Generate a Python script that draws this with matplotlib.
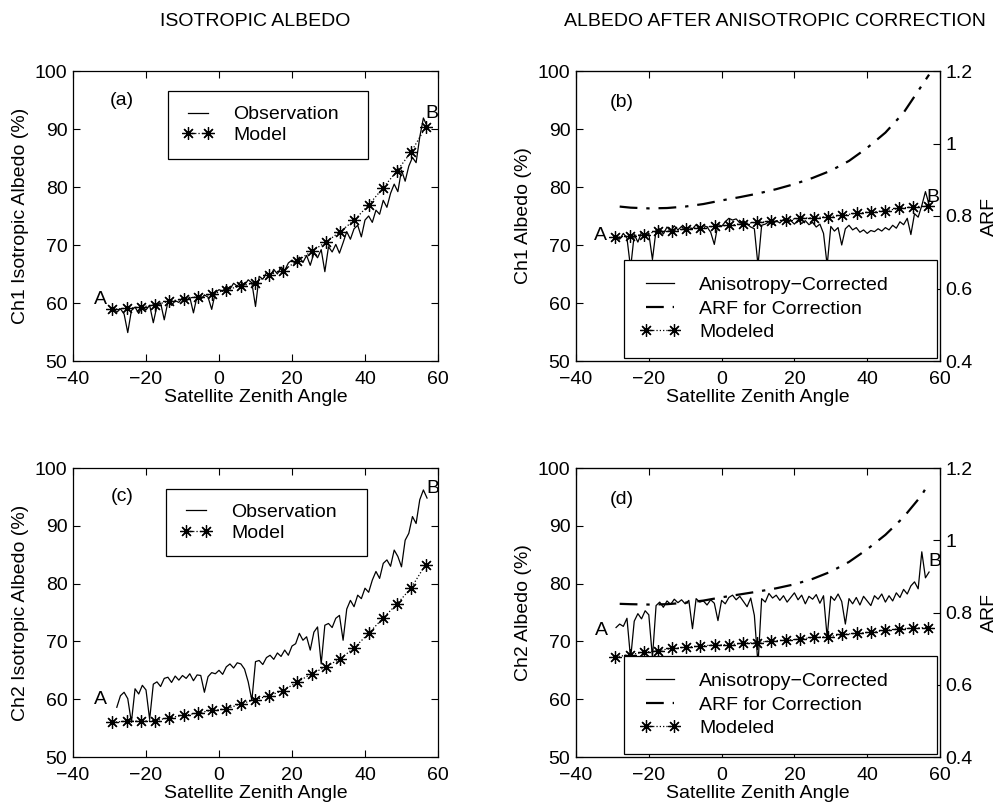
import numpy as np
import matplotlib
matplotlib.use('Agg')
import matplotlib.pyplot as plt

plt.rcParams['font.family'] = ['Liberation Sans', 'DejaVu Sans']
plt.rcParams['font.size'] = 14
plt.rcParams['axes.unicode_minus'] = True

# satellite zenith angle grids (deg)
angle_a = np.arange(-29, 58)
angle_b = np.arange(-29, 58)
angle_c = np.arange(-28, 58)
angle_d = np.arange(-29, 58)
model_angle = [-29.2, -25.3, -21.4, -17.5, -13.6, -9.7, -5.8, -1.9, 2.0, 5.9, 9.8, 13.7,
               17.6, 21.5, 25.4, 29.3, 33.2, 37.1, 41.0, 44.9, 48.8, 52.7, 56.6]
arf_angle = [-28, -25, -20, -15, -10, -5, 0, 5, 10, 15, 20, 25, 30, 35, 40, 45, 50, 55, 57]

# (a) Ch1 isotropic albedo
obs_a = [59.2, 58.4, 59.0, 58.1, 54.9, 58.7, 59.3, 58.2, 59.4, 58.8, 59.6, 56.6, 59.5, 60.0,
         57.1, 60.2, 59.6, 60.4, 60.1, 60.9, 60.3, 61.0, 58.3, 61.2, 60.6, 61.4, 61.0, 58.9,
         61.8, 62.3, 62.0, 62.9, 62.4, 63.4, 62.9, 63.7, 63.1, 64.0, 63.5, 59.4, 64.6, 64.1,
         65.2, 64.6, 65.8, 65.0, 66.2, 65.6, 66.9, 67.4, 66.8, 67.9, 67.0, 68.2, 66.5, 68.6,
         67.8, 69.2, 65.4, 69.7, 68.8, 70.1, 68.6, 70.4, 72.3, 71.0, 72.8, 73.4, 71.4, 74.3,
         75.0, 73.9, 76.0, 75.3, 77.7, 76.5, 78.9, 80.5, 79.2, 82.9, 81.0, 83.6, 85.1, 84.2,
         88.6, 91.9, 90.5]
model_a = [58.9, 59.1, 59.3, 59.7, 60.3, 60.7, 61.1, 61.5, 62.3, 62.9, 63.5, 64.9, 65.6,
           67.3, 68.9, 70.5, 72.3, 74.3, 76.9, 79.8, 82.8, 86.1, 90.3]

# (b) Ch1 albedo after anisotropic correction
obs_b = [71.5, 71.0, 72.0, 71.2, 66.0, 71.8, 70.5, 72.2, 71.4, 72.0, 67.5, 72.6, 72.8, 71.9,
         73.1, 72.4, 73.3, 72.6, 73.2, 72.4, 73.0, 72.8, 73.5, 72.7, 73.4, 73.1, 72.2, 70.1,
         73.6, 73.2, 74.0, 74.6, 74.3, 74.5, 73.8, 74.2, 73.6, 73.1, 72.8, 66.5, 73.4, 73.6,
         74.0, 73.5, 74.2, 73.8, 74.4, 73.9, 74.2, 73.6, 74.3, 73.7, 74.2, 73.5, 73.9, 73.1,
         73.6, 72.0, 66.5, 73.2, 72.4, 73.0, 70.0, 72.8, 73.4, 72.6, 73.0, 72.2, 72.6, 72.0,
         72.5, 72.3, 72.8, 72.4, 73.0, 72.6, 73.4, 72.9, 74.0, 73.5, 74.6, 71.8, 75.4, 74.8,
         76.8, 79.2, 77.0]
arf_b = [0.826, 0.823, 0.821, 0.822, 0.826, 0.833, 0.843, 0.852, 0.862, 0.874, 0.888, 0.905,
         0.925, 0.952, 0.988, 1.03, 1.085, 1.16, 1.19]
model_b = [71.3, 71.6, 71.8, 72.4, 72.4, 72.8, 73.0, 73.2, 73.4, 73.7, 73.9, 74.1, 74.3,
           74.6, 74.7, 74.9, 75.1, 75.5, 75.7, 75.9, 76.3, 76.6, 76.7]

# (c) Ch2 isotropic albedo
obs_c = [58.6, 60.6, 61.2, 60.1, 56.0, 61.8, 60.9, 62.4, 61.6, 56.5, 62.6, 63.0, 62.2, 63.6,
         63.8, 62.9, 64.0, 63.3, 64.1, 63.6, 64.4, 63.2, 64.2, 64.1, 61.2, 63.9, 64.6, 64.4,
         65.0, 64.3, 65.6, 66.1, 65.4, 66.3, 66.1, 65.2, 63.0, 59.8, 66.5, 66.7, 66.0, 67.2,
         67.6, 66.9, 68.0, 67.4, 68.5, 67.6, 69.2, 69.6, 71.4, 70.2, 70.8, 68.5, 71.6, 72.5,
         66.1, 72.8, 73.1, 72.4, 74.0, 74.5, 70.2, 75.6, 77.1, 76.0, 78.0, 77.4, 79.2, 78.5,
         80.6, 82.1, 80.9, 83.5, 84.1, 83.0, 85.8, 84.7, 82.9, 87.5, 88.7, 91.6, 90.4, 94.5,
         96.2, 94.8]
model_c = [56.0, 56.2, 56.2, 56.3, 56.8, 57.2, 57.6, 58.1, 58.3, 59.2, 59.9, 60.6, 61.5,
           63.0, 64.4, 65.6, 67.0, 68.9, 71.4, 74.0, 76.5, 79.3, 83.3]

# (d) Ch2 albedo after anisotropic correction
obs_d = [72.4, 73.0, 72.6, 74.0, 67.0, 73.5, 74.8, 73.9, 75.3, 74.6, 67.2, 76.2, 76.8, 75.9,
         77.0, 76.4, 77.3, 76.7, 77.2, 76.5, 77.1, 72.2, 77.4, 76.8, 77.0, 76.3, 77.2, 76.6,
         73.6, 77.1, 76.5, 77.6, 78.0, 77.2, 77.8, 76.9, 76.0, 77.5, 74.5, 66.0, 77.4, 76.8,
         78.3, 77.5, 78.0, 77.1, 77.9, 76.8, 77.6, 78.4, 77.2, 78.0, 76.5, 77.8, 77.3, 78.1,
         76.6, 77.9, 70.7, 77.8, 77.1, 78.2, 76.9, 73.0, 77.4, 76.5, 77.6, 76.3, 77.8, 77.0,
         76.2, 77.9, 77.3, 78.2, 76.8, 77.9, 77.0, 78.4, 77.6, 79.0, 78.2, 79.6, 80.3, 79.1,
         85.5, 81.0, 82.0]
arf_d = [0.824, 0.823, 0.822, 0.823, 0.827, 0.833, 0.842, 0.850, 0.858, 0.867, 0.878, 0.893,
         0.913, 0.940, 0.975, 1.015, 1.064, 1.125, 1.16]
model_d = [67.3, 67.7, 68.1, 68.4, 68.8, 69.0, 69.2, 69.4, 69.4, 69.7, 69.8, 70.1, 70.2,
           70.4, 70.7, 70.8, 71.2, 71.4, 71.6, 71.9, 72.2, 72.3, 72.4]

W, H = 1000, 808


def rect(l, t, r, b):
    return [l / W, 1 - b / H, (r - l) / W, (b - t) / H]


star = dict(marker=(8, 2, 0), markersize=9, markeredgewidth=0.9, color='k',
            linestyle=':', linewidth=0.9)
legend_kw = dict(frameon=True, fancybox=False, framealpha=1, edgecolor='k',
                 borderaxespad=0, mode='expand', fontsize=14, numpoints=2)


def style(ax, ylabel, right=True):
    ax.set_xlim(-40, 60)
    ax.set_ylim(50, 100)
    ax.set_xticks([-40, -20, 0, 20, 40, 60])
    ax.set_yticks([50, 60, 70, 80, 90, 100])
    ax.tick_params(direction='in', length=5, width=0.8, top=True, right=right,
                   labelsize=14, pad=4)
    ax.tick_params(axis='x', pad=7)
    ax.set_xlabel('Satellite Zenith Angle', labelpad=1)
    ax.set_ylabel(ylabel, labelpad=4)
    for s in ax.spines.values():
        s.set_linewidth(0.9)


def isotropic(r, angle, obs, model, label, ylabel, a_pos, b_pos, leg_box):
    ax = fig.add_axes(rect(*r))
    style(ax, ylabel)
    ax.plot(angle, obs, color='k', linewidth=0.9, label='Observation')
    ax.plot(model_angle, model, label='Model', **star)
    ax.text(0.134, 0.9, label, transform=ax.transAxes, ha='center', va='center')
    ax.text(*a_pos, 'A', ha='center', va='center')
    ax.text(*b_pos, 'B', ha='center', va='center')
    leg = ax.legend(loc='lower left', bbox_to_anchor=leg_box, borderpad=0.75,
                    labelspacing=0.15, handlelength=1.6, handletextpad=1.0, **legend_kw)
    leg.get_frame().set_linewidth(0.9)
    return ax


def corrected(r, angle, obs, arf, model, label, ylabel, a_pos, b_pos):
    ax = fig.add_axes(rect(*r))
    style(ax, ylabel, right=False)
    l1, = ax.plot(angle, obs, color='k', linewidth=0.9, label='Anisotropy\u2212Corrected')
    l3, = ax.plot(model_angle, model, label='Modeled', **star)
    ax.text(0.126, 0.89, label, transform=ax.transAxes, ha='center', va='center')
    ax.text(*a_pos, 'A', ha='center', va='center')
    ax.text(*b_pos, 'B', ha='center', va='center')
    ax2 = ax.twinx()
    ax2.set_ylim(0.4, 1.2)
    ax2.set_yticks([0.4, 0.6, 0.8, 1.0, 1.2])
    ax2.set_yticklabels(['0.4', '0.6', '0.8', '1', '1.2'])
    ax2.tick_params(direction='in', length=5, width=0.8, labelsize=14, pad=4)
    ax2.set_ylabel('ARF', labelpad=6)
    l2, = ax2.plot(arf_angle, arf, color='k', linestyle=(0, (8, 4, 1.5, 4)),
                   linewidth=1.6, label='ARF for Correction')
    leg = ax2.legend([l1, l2, l3], [l1.get_label(), l2.get_label(), l3.get_label()],
                     loc='lower left', bbox_to_anchor=(0.132, 0.012, 0.86, 0.358),
                     borderpad=0.85, labelspacing=0.3, handlelength=2.0,
                     handletextpad=1.0, **legend_kw)
    leg.get_frame().set_linewidth(0.9)
    return ax


fig = plt.figure(figsize=(W / 100, H / 100), dpi=100)

isotropic((73, 71, 438, 361), angle_a, obs_a, model_a, '(a)',
          'Ch1 Isotropic Albedo (%)', (-32.6, 60.6), (58.4, 92.6),
          (0.26, 0.698, 0.548, 0.27))
corrected((576, 71, 940, 361), angle_b, obs_b, arf_b, model_b, '(b)',
          'Ch1 Albedo (%)', (-33.4, 71.6), (58.1, 78.2))
isotropic((73, 468, 438, 757), angle_c, obs_c, model_c, '(c)',
          'Ch2 Isotropic Albedo (%)', (-32.6, 59.9), (58.5, 96.5),
          (0.255, 0.695, 0.55, 0.27))
corrected((576, 468, 940, 757), angle_d, obs_d, arf_d, model_d, '(d)',
          'Ch2 Albedo (%)', (-32.9, 71.9), (58.6, 83.8))

fig.text(255 / W, 1 - 22 / H, 'ISOTROPIC ALBEDO', ha='center', va='center', fontsize=14)
fig.text(775 / W, 1 - 22 / H, 'ALBEDO AFTER ANISOTROPIC CORRECTION', ha='center',
         va='center', fontsize=14)

fig.savefig('out.png', dpi=100)
